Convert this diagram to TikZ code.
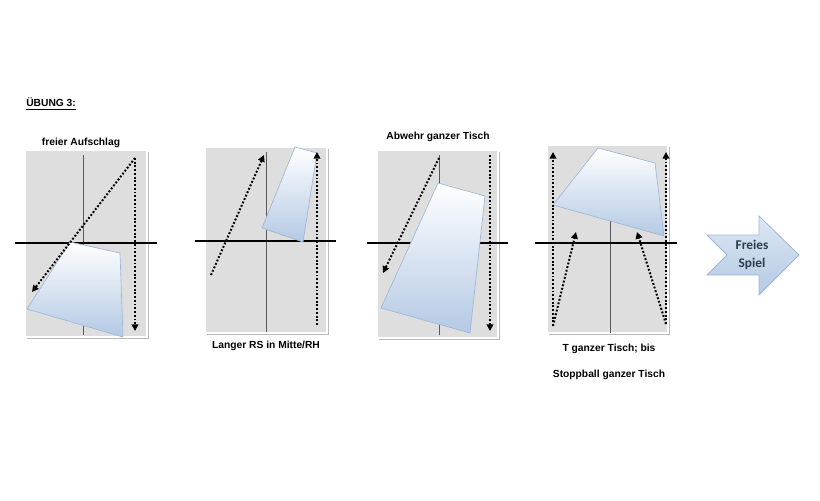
\documentclass[tikz,border=0pt]{standalone}
\usepackage{fontspec}
\setmainfont{Liberation Sans}
\newfontfamily\carlito{Carlito}
\usetikzlibrary{arrows.meta,shadows}
\definecolor{panelgray}{HTML}{DEDEDE}
\definecolor{trapblue}{HTML}{B4C9E4}
\definecolor{trapedge}{HTML}{9DB7D8}
\definecolor{arrowtxt}{HTML}{2E3B4E}
\tikzset{
  panel/.style={fill=panelgray,draw=white,line width=1.5pt,drop shadow={shadow xshift=1.2pt,shadow yshift=-1.2pt,opacity=0.45,fill=black!60}},
  midline/.style={draw=black!65,line width=0.4pt},
  netline/.style={draw=black,line width=1.2pt},
  trap/.style={draw=trapedge,line width=0.5pt,top color=white,bottom color=trapblue},
  ball/.style={draw=black,line width=1.5pt,dash pattern=on 1.4pt off 1.4pt,-{Triangle[length=5pt,width=5pt]}},
  lbl/.style={font=\bfseries\fontsize{7.7pt}{9pt}\selectfont,inner sep=0pt},
}
\begin{document}
\begin{tikzpicture}[x=0.75pt,y=-0.75pt]
\useasboundingbox[fill=white] (0,0) rectangle (820,500);
\node[lbl,anchor=west] (title) at (26,104) {\underline{ÜBUNG 3:}};

% ---------- panel 1
\node[lbl] (l1) at (81,143) {freier Aufschlag};
\draw[panel] (25,150) rectangle (147,337);
\coordinate (p1m1) at (83,155); \coordinate (p1m2) at (83,335);
\draw[midline] (p1m1) -- (p1m2);
\coordinate (p1n1) at (15,243); \coordinate (p1n2) at (157,243);
\draw[netline] (p1n1) -- (p1n2);
\draw[trap] (70,242) -- (120,253) -- (123,337) -- (27,309) -- cycle;
\coordinate (p1s) at (135,158); \coordinate (p1a) at (32,292); \coordinate (p1b) at (135,331);
\draw[ball] (p1s) -- (p1a);
\draw[ball] (p1s) -- (p1b);

% ---------- panel 2
\draw[panel] (205,147) rectangle (327,333);
\coordinate (p2m1) at (266,152); \coordinate (p2m2) at (266,332);
\draw[midline] (p2m1) -- (p2m2);
\coordinate (p2n1) at (195,241); \coordinate (p2n2) at (336,241);
\draw[netline] (p2n1) -- (p2n2);
\draw[trap] (295,147) -- (317,153) -- (303,242) -- (262,228) -- cycle;
\coordinate (p2s1) at (211,275); \coordinate (p2e1) at (264,155);
\coordinate (p2s2) at (317,325); \coordinate (p2e2) at (317,152);
\draw[ball] (p2s1) -- (p2e1);
\draw[ball] (p2s2) -- (p2e2);
\node[lbl] (l2) at (266,346) {Langer RS in Mitte/RH};

% ---------- panel 3
\node[lbl] (l3) at (438,137) {Abwehr ganzer Tisch};
\draw[panel] (377,150) rectangle (498,338);
\coordinate (p3m1) at (439,155); \coordinate (p3m2) at (439,335);
\draw[midline] (p3m1) -- (p3m2);
\coordinate (p3n1) at (367,243); \coordinate (p3n2) at (508,243);
\draw[netline] (p3n1) -- (p3n2);
\draw[trap] (438,183) -- (485,196) -- (470,333) -- (381,308) -- cycle;
\coordinate (p3s1) at (439,158); \coordinate (p3e1) at (383,273);
\coordinate (p3s2) at (490,155); \coordinate (p3e2) at (490,331);
\draw[ball] (p3s1) -- (p3e1);
\draw[ball] (p3s2) -- (p3e2);

% ---------- panel 4
\draw[panel] (547,145) rectangle (668,333);
\coordinate (p4m1) at (610,215); \coordinate (p4m2) at (610,333);
\draw[midline] (p4m1) -- (p4m2);
\coordinate (p4n1) at (535,243); \coordinate (p4n2) at (677,243);
\draw[netline] (p4n1) -- (p4n2);
\draw[trap] (598,148) -- (655,163) -- (664,236) -- (553,205) -- cycle;
\coordinate (p4l) at (553,326); \coordinate (p4r) at (666,324);
\coordinate (p4lt) at (553,152); \coordinate (p4rt) at (666,152);
\coordinate (p4ld) at (576,232); \coordinate (p4rd) at (637,232);
\draw[ball] (p4l) -- (p4lt);
\draw[ball] (p4r) -- (p4rt);
\draw[ball] (p4l) -- (p4ld);
\draw[ball] (p4r) -- (p4rd);
\node[lbl] (l4a) at (609,349) {T ganzer Tisch; bis};
\node[lbl] (l4b) at (609,375) {Stoppball ganzer Tisch};

% ---------- arrow
\draw[draw=trapedge,line width=0.6pt,top color=trapblue!45,bottom color=trapblue]
  (707,235) -- (759,235) -- (759,216) -- (799,255) -- (759,295) -- (759,275) -- (707,275) -- (727,255) -- cycle;
\node[font=\carlito\bfseries\fontsize{10pt}{12pt}\selectfont,text=arrowtxt,align=center,inner sep=0pt] (free) at (752,255) {Freies\\[2pt]Spiel};
\end{tikzpicture}
\end{document}
